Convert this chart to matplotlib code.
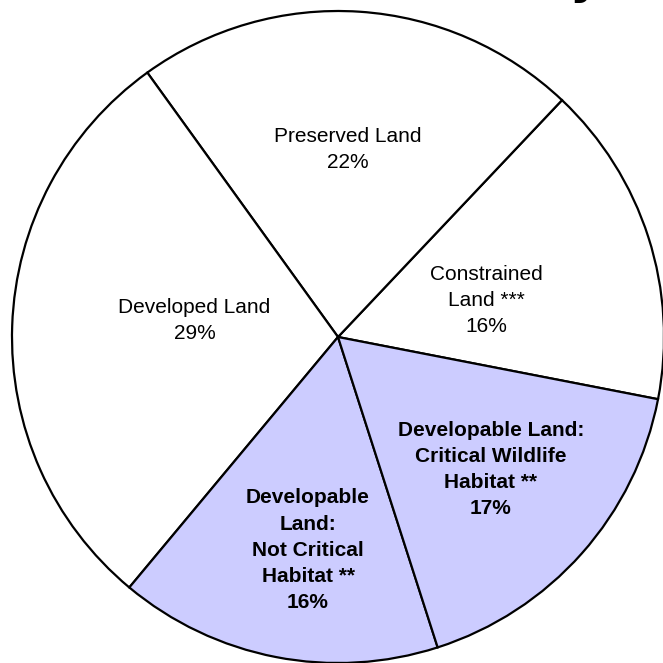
import numpy as np
import matplotlib
matplotlib.use("Agg")
import matplotlib.pyplot as plt

# slices, counter-clockwise starting at the right
labels = ["Constrained\nLand ***\n16%",
          "Preserved Land\n22%",
          "Developed Land\n29%",
          "Developable\nLand:\nNot Critical\nHabitat **\n16%",
          "Developable Land:\nCritical Wildlife\nHabitat **\n17%"]
values = [16, 22, 29, 16, 17]
bold = [False, False, False, True, True]
colors = ["white", "white", "white", "#ccccff", "#ccccff"]

# label placement: distance from centre (fraction of radius), angle nudge in degrees
label_dist = [0.47, 0.575, 0.443, 0.66, 0.62]
label_turn = [-3.9, 0.7, -4.7, 3.0, 0.7]

plt.rcParams['font.family'] = ['Liberation Sans', 'DejaVu Sans']

fig = plt.figure(figsize=(6.63, 6.63), dpi=100)
ax = fig.add_axes([0, 0, 1, 1])

cx, cy, r = 338, 326, 326
wedges, _ = ax.pie(values, colors=colors, startangle=-11, counterclock=True,
                   center=(cx, cy), radius=r, frame=True,
                   wedgeprops=dict(edgecolor="black", linewidth=1.6))

for w, lab, d, t, b in zip(wedges, labels, label_dist, label_turn, bold):
    mid = np.deg2rad((w.theta1 + w.theta2) / 2 + t)
    ax.text(cx + d * r * np.cos(mid), cy + d * r * np.sin(mid), lab,
            ha="center", va="center", fontsize=15, linespacing=1.47,
            fontweight="bold" if b else "normal")

ax.set_xlim(0, 663)
ax.set_ylim(0, 663)
ax.set_axis_off()

# title cut off at the top edge, only the tail of its last letter shows
fig.text(600 / 663, 1 + 7 / 663, "y", ha="right", va="baseline",
         fontsize=34, fontweight="bold", family="DejaVu Sans")

fig.savefig("out.png", dpi=100)
